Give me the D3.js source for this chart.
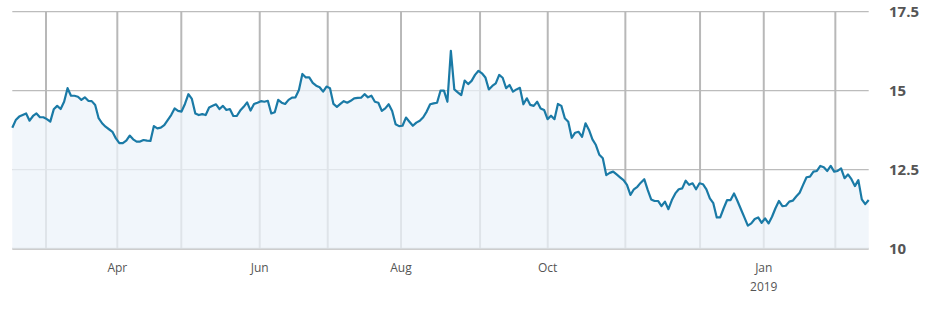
<!DOCTYPE html>
<html>
<head>
<meta charset="utf-8">
<script src="https://cdn.jsdelivr.net/npm/d3@7"></script>
<style>
  html, body { margin: 0; padding: 0; background: #fff; }
  svg { display: block; }
</style>
</head>
<body>
<svg id="chart" width="938" height="312"></svg>
<script>
// Daily closing values (one per trading session, mid-Feb 2018 .. mid-Feb 2019)
const values = [
  13.83, 14.07, 14.18, 14.23, 14.28, 14.05, 14.20, 14.28, 14.16, 14.16, 14.10, 14.02, 14.41, 14.52, 14.42, 14.65, 15.08, 14.84, 14.84, 14.81, 14.71, 14.79, 14.68, 14.67, 14.55, 14.13, 13.97, 13.86,
  13.78,
  13.70, 13.49, 13.34, 13.34, 13.42, 13.58, 13.46, 13.39, 13.39, 13.44, 13.42, 13.41, 13.88, 13.81, 13.83, 13.91,
  14.07,
  14.23, 14.44, 14.36, 14.34, 14.58, 14.89, 14.74, 14.28, 14.23, 14.26, 14.23, 14.47, 14.52, 14.57, 14.42, 14.52, 14.39, 14.42, 14.20, 14.20, 14.37, 14.49, 14.63, 14.37, 14.58, 14.62,
  14.67, 14.65, 14.68, 14.28, 14.32, 14.71, 14.62, 14.58, 14.71, 14.78, 14.79, 15.02, 15.53, 15.42, 15.42, 15.25, 15.16, 15.11, 14.97, 15.13, 15.08, 14.58, 14.49, 14.58, 14.67, 14.62, 14.68, 14.76,
  14.77,
  14.78, 14.89, 14.79, 14.84, 14.65, 14.62, 14.36, 14.44, 14.57, 14.36, 13.94, 13.88, 13.89, 14.15, 14.02, 13.89, 13.99, 14.05, 14.16, 14.34,
  14.57, 14.60, 14.62, 15.00, 15.00, 14.65, 16.26, 15.04, 14.95, 14.86, 15.32, 15.21, 15.31, 15.50, 15.63, 15.55, 15.42, 15.04, 15.15, 15.23,
  15.50, 15.41, 15.08, 15.18, 14.97, 15.04, 15.09, 14.57, 14.76, 14.55, 14.52,
  14.65, 14.44, 14.39, 14.10, 14.21, 14.10, 14.58, 14.52, 14.13, 14.02, 13.51, 13.67, 13.70, 13.54, 13.97, 13.76, 13.46, 13.28, 12.97, 12.86, 12.33, 12.40, 12.44,
  12.35,
  12.26, 12.17, 12.02, 11.70, 11.88, 11.96, 12.09, 12.20, 11.86, 11.56, 11.51, 11.51, 11.35, 11.49, 11.25, 11.54, 11.75, 11.88, 11.91,
  12.15, 12.02, 12.07, 11.88, 12.07, 12.04, 11.88, 11.59, 11.44, 10.99, 10.99, 11.28, 11.54, 11.54, 11.75, 11.51, 11.25, 10.99, 10.73, 10.80, 10.94, 10.99,
  10.82, 10.96, 10.80, 11.01, 11.28, 11.51, 11.35, 11.36, 11.49, 11.52, 11.65, 11.77, 12.02, 12.26, 12.28, 12.44, 12.46, 12.62, 12.58, 12.46,
  12.62, 12.44, 12.46, 12.54, 12.23, 12.35, 12.20, 11.98, 12.17, 11.56, 11.41, 11.54
];

// Month boundaries on the trading-session axis (session index where each month starts)
const monthNames  = ["Mar", "Apr", "May", "Jun", "Jul", "Aug", "Sep", "Oct", "Nov", "Dec", "Jan", "Feb"];
const monthStarts = [9.76, 30.41, 48.94, 71.65, 91.34, 112.57, 135.45, 155.05, 177.53, 199.16, 217.61, 238.34];
const monthLabels = ["", "Apr", "", "Jun", "", "Aug", "", "Oct", "", "", "Jan", ""];
const yearLabels  = ["", "", "", "", "", "", "", "", "", "", "2019", ""];

// Y axis
const yTicks = [10, 12.5, 15, 17.5];
const yDomain = [10, 17.5];

(function () {
const svg = d3.select("#chart");
const m = { left: 12.3, right: 868.7, top: 11.7, bottom: 248.7 };

const x = d3.scaleLinear().domain([0, values.length - 1]).range([m.left, m.right]);
const y = d3.scaleLinear().domain(yDomain).range([m.bottom, m.top]);

// horizontal grid
svg.append("g").selectAll("line").data(yTicks).join("line")
  .attr("x1", m.left).attr("x2", m.right)
  .attr("y1", d => y(d)).attr("y2", d => y(d))
  .attr("stroke", "#bcbcbc")
  .attr("stroke-width", d => d === 10 ? 2 : 1.3);

// vertical grid (month starts)
svg.append("g").selectAll("line").data(monthStarts).join("line")
  .attr("x1", d => x(d)).attr("x2", d => x(d))
  .attr("y1", m.top).attr("y2", m.bottom)
  .attr("stroke", "#b8b8b8")
  .attr("stroke-width", 2);

// area
const area = d3.area()
  .x((d, i) => x(i))
  .y0(y(yDomain[0]))
  .y1(d => y(d));
svg.append("path").datum(values)
  .attr("d", area)
  .attr("fill", "rgb(236,243,249)")
  .attr("fill-opacity", 0.75);

// line
const line = d3.line().x((d, i) => x(i)).y(d => y(d));
svg.append("path").datum(values)
  .attr("d", line)
  .attr("fill", "none")
  .attr("stroke", "#1a7aa6")
  .attr("stroke-width", 2.2)
  .attr("stroke-linejoin", "round");

// right axis labels
svg.append("g").selectAll("text").data(yTicks).join("text")
  .attr("x", 889)
  .attr("y", d => y(d))
  .attr("dy", "0.36em")
  .attr("font-family", "'Open Sans', 'DejaVu Sans', sans-serif")
  .attr("font-weight", 700)
  .attr("font-size", 15)
  .attr("fill", "#555")
  .text(d => d3.format("")(d));

// bottom month labels
const lab = svg.append("g");
lab.selectAll("text.m").data(monthStarts).join("text")
  .attr("class", "m")
  .attr("x", d => x(d))
  .attr("y", 272)
  .attr("text-anchor", "middle")
  .attr("font-family", "'Open Sans', 'DejaVu Sans', sans-serif")
  .attr("font-size", 12)
  .attr("fill", "#555")
  .text((d, i) => monthLabels[i]);
lab.selectAll("text.yr").data(monthStarts).join("text")
  .attr("class", "yr")
  .attr("x", d => x(d))
  .attr("y", 291)
  .attr("text-anchor", "middle")
  .attr("font-family", "'Open Sans', 'DejaVu Sans', sans-serif")
  .attr("font-size", 12)
  .attr("fill", "#555")
  .text((d, i) => yearLabels[i]);
})();
</script>
</body>
</html>
